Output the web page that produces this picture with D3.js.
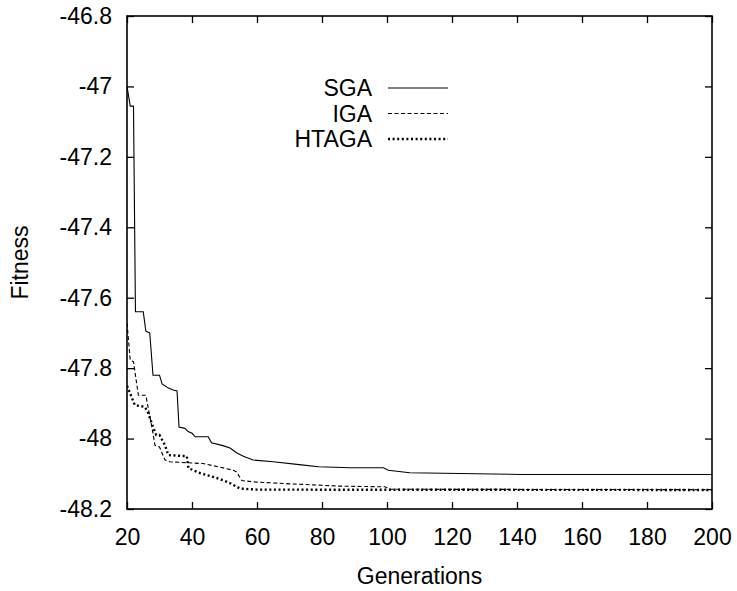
<!DOCTYPE html>
<html><head><meta charset="utf-8">
<script src="https://cdn.jsdelivr.net/npm/d3@7"></script>
<style>body{margin:0;background:#fff}svg{display:block}text{font-family:"Liberation Sans",Arial,sans-serif;fill:#000}</style>
</head><body><svg id="c" width="737" height="591"></svg>
<script>
const xTicks = [20,40,60,80,100,120,140,160,180,200];
const yTicks = [-46.8,-47,-47.2,-47.4,-47.6,-47.8,-48,-48.2];
const seriesNames = ["SGA","IGA","HTAGA"];
const sgaGen = [20,21,22,22.6,25,25.8,27,28,30,30.8,32.6,34.2,35.4,36,37.8,38.8,40,41,45,46,49.5,51.7,53.7,55.8,58.8,65,73,79,88.6,98.9,100.4,107,141.8,200];
const sgaFit = [-47.0,-47.056,-47.056,-47.64,-47.64,-47.695,-47.70,-47.82,-47.82,-47.845,-47.856,-47.862,-47.865,-47.967,-47.971,-47.98,-47.985,-47.995,-47.995,-48.012,-48.02,-48.027,-48.04,-48.05,-48.061,-48.066,-48.074,-48.08,-48.083,-48.083,-48.09,-48.097,-48.102,-48.102];
const igaGen = [20,21,22,23.5,25.8,28,28.6,30,31.7,33.2,43.4,48.6,52.7,53.7,55.3,58.8,69,85.5,99.4,101,200];
const igaFit = [-47.672,-47.777,-47.782,-47.877,-47.877,-47.985,-48.019,-48.024,-48.061,-48.066,-48.071,-48.081,-48.09,-48.095,-48.119,-48.123,-48.128,-48.135,-48.137,-48.144,-48.145];
const htagaGen = [20,22.4,25.5,26.6,28,29,30,31.7,32.7,38.4,38.9,42.5,47.6,50,52,54.8,60,200];
const htagaFit = [-47.85,-47.905,-47.91,-47.929,-47.967,-47.99,-47.99,-48.019,-48.047,-48.05,-48.084,-48.098,-48.112,-48.12,-48.128,-48.142,-48.145,-48.146];

const L=127,R=712,T=16,B=509;
const svg=d3.select("#c");
const x=d3.scaleLinear().domain([20,200]).range([L,R]);
const y=d3.scaleLinear().domain([-48.2,-46.8]).range([B,T]);
const fs=23, tl=7;

const gBottom=svg.append("g").attr("transform",`translate(0,${B})`)
  .call(d3.axisBottom(x).tickValues(xTicks).tickSize(-tl).tickPadding(tl+13).tickFormat(d=>d));
const gTop=svg.append("g").attr("transform",`translate(0,${T})`)
  .call(d3.axisTop(x).tickValues(xTicks).tickSize(-tl).tickFormat(""));
const gLeft=svg.append("g").attr("transform",`translate(${L},0)`)
  .call(d3.axisLeft(y).tickValues(yTicks).tickSize(-tl).tickPadding(tl+8).tickFormat(d=>String(d)));
const gRight=svg.append("g").attr("transform",`translate(${R},0)`)
  .call(d3.axisRight(y).tickValues(yTicks).tickSize(-tl).tickFormat(""));
[gBottom,gTop,gLeft,gRight].forEach(g=>{
  g.select(".domain").remove();
  g.selectAll(".tick line").attr("stroke","#000").attr("stroke-width",1.3);
  g.selectAll("text").attr("font-size",fs).attr("font-family","Liberation Sans, Arial, sans-serif").attr("fill","#000");
});
svg.append("rect").attr("x",L).attr("y",T).attr("width",R-L).attr("height",B-T)
  .attr("fill","none").attr("stroke","#000").attr("stroke-width",1.6);

svg.append("text").attr("x",(L+R)/2).attr("y",584).attr("text-anchor","middle").attr("font-size",fs).text("Generations");
svg.append("text").attr("transform",`translate(20,${(T+B)/2}) rotate(-90)`).attr("text-anchor","middle")
  .attr("dominant-baseline","central").attr("font-size",fs).text("Fitness");

const styles=[
  {w:1.1,dash:null},
  {w:1.1,dash:"4,2.5"},
  {w:2.4,dash:"2,2.6"}
];
const data=[d3.zip(sgaGen,sgaFit),d3.zip(igaGen,igaFit),d3.zip(htagaGen,htagaFit)];
const line=d3.line().x(d=>x(d[0])).y(d=>y(d[1]));
svg.append("clipPath").attr("id","pc").append("rect").attr("x",L).attr("y",T).attr("width",R-L).attr("height",B-T);
data.forEach((d,i)=>{
  svg.append("path").datum(d).attr("d",line).attr("fill","none").attr("stroke","#000")
    .attr("stroke-width",styles[i].w).attr("stroke-dasharray",styles[i].dash).attr("clip-path","url(#pc)");
});

const lg=svg.append("g");
seriesNames.forEach((n,i)=>{
  const yy=88+i*25.5;
  lg.append("text").attr("x",372).attr("y",yy).attr("text-anchor","end").attr("dominant-baseline","central").attr("font-size",fs).text(n);
  lg.append("line").attr("x1",388).attr("x2",448).attr("y1",yy).attr("y2",yy).attr("stroke","#000")
    .attr("stroke-width",styles[i].w).attr("stroke-dasharray",styles[i].dash);
});
</script></body></html>
